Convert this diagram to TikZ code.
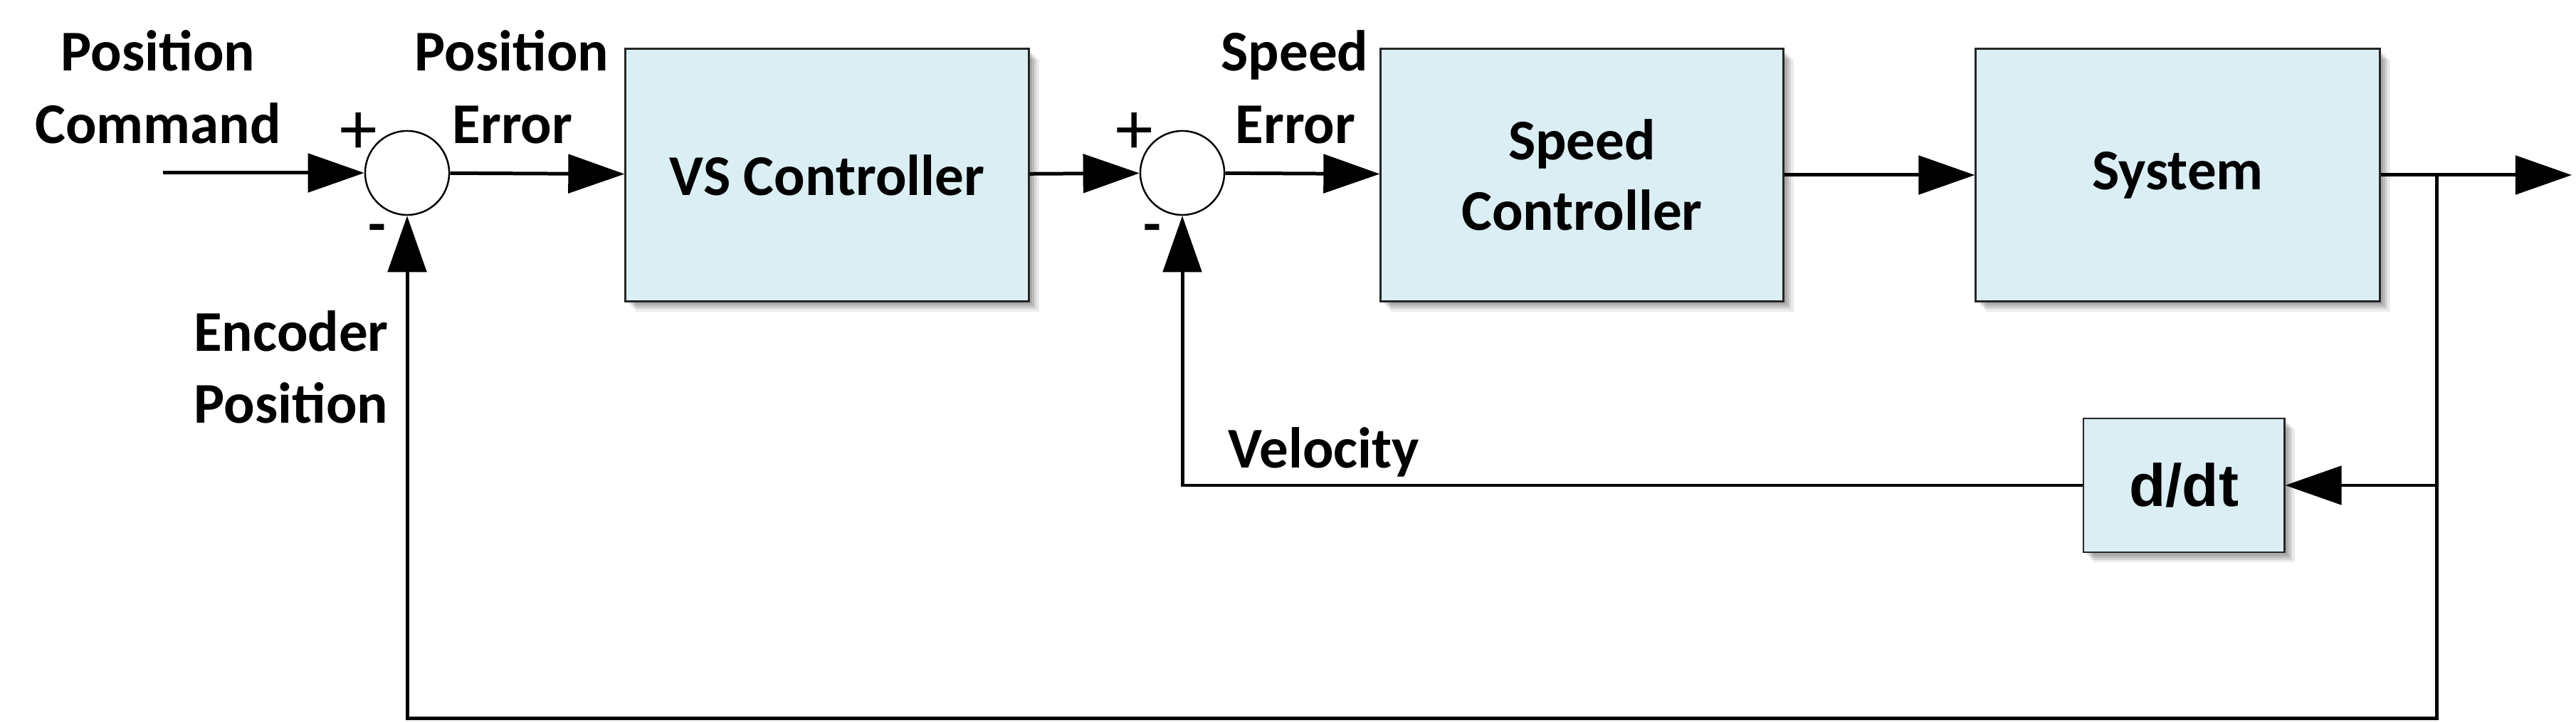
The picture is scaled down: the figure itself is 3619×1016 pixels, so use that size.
\documentclass[tikz,border=0pt]{standalone}
\usepackage{fontspec}
\setmainfont{Carlito}
\newfontfamily\arialfont{Liberation Sans}
\usetikzlibrary{arrows.meta,shadows}
\definecolor{boxfill}{RGB}{219,238,244}
\begin{document}
\begin{tikzpicture}[x=0.01cm,y=-0.01cm,
  lbl/.style={font=\fontsize{23.05}{29}\selectfont\bfseries, anchor=base, inner sep=0pt},
  pm/.style={font=\fontsize{30}{30}\selectfont, inner sep=0pt},
  mn/.style={font=\fontsize{23.05}{29}\selectfont\bfseries, anchor=base, inner sep=0pt},
  softshadow/.style={
    drop shadow={shadow xshift=1.4pt, shadow yshift=-1.4pt, opacity=0.10, fill=black},
    drop shadow={shadow xshift=2.3pt, shadow yshift=-2.3pt, opacity=0.10, fill=black},
    drop shadow={shadow xshift=3.2pt, shadow yshift=-3.2pt, opacity=0.10, fill=black},
    drop shadow={shadow xshift=4.1pt, shadow yshift=-4.1pt, opacity=0.08, fill=black}},
  blk/.style={draw=black!85, line width=0.8pt, fill=boxfill, inner sep=0pt, align=center,
    font=\fontsize{23.05}{28.2}\selectfont\bfseries, softshadow},
  sum/.style={circle, draw=black, line width=0.7pt, fill=white, minimum size=1.18cm, inner sep=0pt},
  wire/.style={line width=1.42pt},
  conn/.style={wire, -{Triangle[length=22.5pt,width=15.4pt]}}]
\fill[white] (0,0) rectangle (3619,1016);
\useasboundingbox (0,0) rectangle (3619,1016);

% blocks
\node[blk, minimum width=5.66cm, minimum height=3.54cm] (vs) at (1162,246) {VS Controller};
\node[blk, minimum width=5.65cm, minimum height=3.54cm] (sc) at (2222.5,246) {Speed\\Controller};
\node[blk, minimum width=5.67cm, minimum height=3.54cm] (sys) at (3059.5,246) {System};
\node[blk, minimum width=2.82cm, minimum height=1.88cm, font=\arialfont\fontsize{23.9}{28}\selectfont\bfseries] (dd) at (3068,682) {d/dt};

% summing junctions
\node[sum] (s1) at (572,243) {};
\node[sum] (s2) at (1661,243) {};

% coordinates
\coordinate (in) at (229,243);
\coordinate (br) at (3423,246);
\coordinate (out) at (3613,246);
\coordinate (bot) at (3423,1009);

% connectors
\draw[conn] (in) -- (s1);
\draw[conn] (s1) -- (vs);
\draw[conn] (vs) -- (s2);
\draw[conn] (s2) -- (sc);
\draw[conn] (sc) -- (sys);
\draw[conn] (sys.east) -- (out);
\draw[conn] (br) |- (dd);
\draw[conn] (dd) -| (s2);
\draw[conn] (br) -- (bot) -| (s1);

% labels
\node[lbl] (pc1) at (222,100) {Position};
\node[lbl] (pc2) at (222,202) {Command};
\node[lbl] (pe1) at (719,100) {Position};
\node[lbl] (pe2) at (720,202) {Error};
\node[lbl] (se1) at (1819,100) {Speed};
\node[lbl] (se2) at (1820,202) {Error};
\node[lbl] (ep1) at (409,494) {Encoder};
\node[lbl] (ep2) at (409,594) {Position};
\node[lbl] (vel) at (1860,657) {Velocity};

% signs
\node[pm] (p1) at (504,188) {+};
\node[pm] (p2) at (1594,188) {+};
\node[mn] (m1) at (530,343) {-};
\node[mn] (m2) at (1619,343) {-};
\end{tikzpicture}
\end{document}
